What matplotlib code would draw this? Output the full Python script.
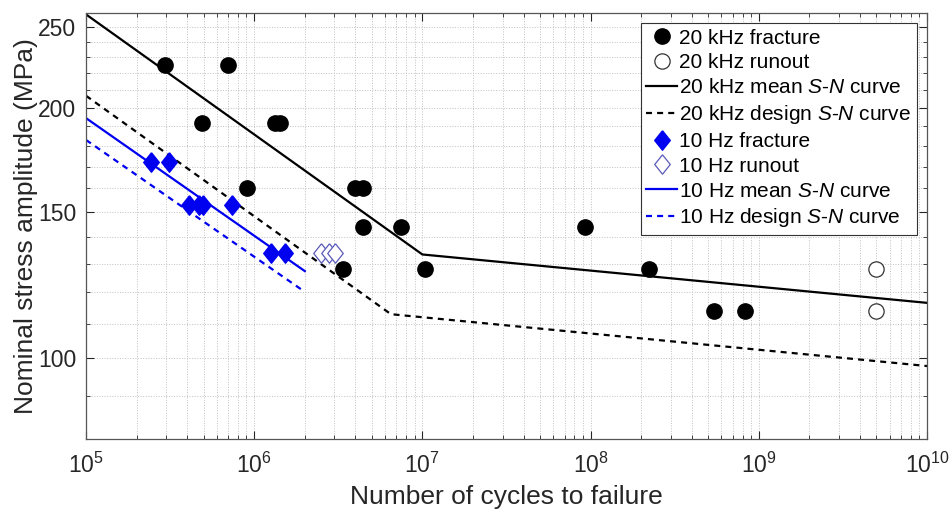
import matplotlib
matplotlib.use("Agg")
import matplotlib.pyplot as plt
from matplotlib.ticker import FixedLocator, NullFormatter, LogLocator

# data
khz_frac_N = [2.95e5, 6.96e5, 4.92e5, 1.33e6, 1.42e6, 9.1e5, 3.95e6, 4.44e6,
              4.44e6, 7.5e6, 3.37e6, 1.04e7, 9.3e7, 2.22e8, 5.45e8, 8.3e8]
khz_frac_S = [225, 225, 192, 192, 192, 160, 160, 160,
              144, 144, 128, 128, 144, 128, 114, 114]
khz_run_N = [5e9, 5e9]
khz_run_S = [128, 114]

hz_frac_N = [2.44e5, 3.12e5, 4.12e5, 4.69e5, 4.99e5, 7.43e5, 1.26e6, 1.53e6]
hz_frac_S = [172, 172, 153, 153, 153, 153, 134, 134]
hz_run_N = [2.5e6, 2.77e6, 3.03e6]
hz_run_S = [134, 134, 134]

khz_mean_N = [1e5, 1e7, 1e10]
khz_mean_S = [259, 133.3, 116.6]
khz_design_N = [1e5, 6.5e6, 1e10]
khz_design_S = [206.8, 113, 97.9]
hz_mean_N = [1e5, 2e6]
hz_mean_S = [194.4, 127.3]
hz_design_N = [1e5, 2e6]
hz_design_S = [183, 120.2]

plt.rcParams['font.family'] = ['Liberation Sans', 'DejaVu Sans']
plt.rcParams['mathtext.fontset'] = 'custom'
plt.rcParams['mathtext.rm'] = 'Liberation Sans'
plt.rcParams['mathtext.it'] = 'Liberation Sans:italic'
plt.rcParams['mathtext.default'] = 'regular'

fig = plt.figure(figsize=(9.5, 5.13), dpi=100)
ax = fig.add_axes([0.0905, 0.1442, 0.8853, 0.8305])

blue = '#0000f0'
diamond = [(0, 1), (0.8, 0), (0, -1), (-0.8, 0), (0, 1)]
dash = (2.7, 2.3)

ax.plot(khz_frac_N, khz_frac_S, 'o', color='black', ms=11, ls='none',
        label='20 kHz fracture', zorder=4)
ax.plot(khz_run_N, khz_run_S, 'o', mfc='white', mec='#333333', mew=0.9, ms=11,
        ls='none', label='20 kHz runout', zorder=4)
ax.plot(khz_mean_N, khz_mean_S, color='black', lw=1.6,
        label=r'20 kHz mean $\mathit{S}$-$\mathit{N}$ curve')
ax.plot(khz_design_N, khz_design_S, color='black', lw=1.6, ls=(0, dash),
        label=r'20 kHz design $\mathit{S}$-$\mathit{N}$ curve')
ax.plot(hz_frac_N, hz_frac_S, marker=diamond, color=blue, ms=14, ls='none',
        label='10 Hz fracture', zorder=4)
ax.plot(hz_run_N, hz_run_S, marker=diamond, mfc='white', mec='#5a5ab8', mew=0.9,
        ms=14, ls='none', label='10 Hz runout', zorder=4)
ax.plot(hz_mean_N, hz_mean_S, color=blue, lw=1.6,
        label=r'10 Hz mean $\mathit{S}$-$\mathit{N}$ curve')
ax.plot(hz_design_N, hz_design_S, color=blue, lw=1.6, ls=(0, dash),
        label=r'10 Hz design $\mathit{S}$-$\mathit{N}$ curve')

ax.set_xscale('log')
ax.set_yscale('log')
ax.set_xlim(1e5, 1e10)
ax.set_ylim(80, 260)

ax.xaxis.set_major_locator(LogLocator(base=10, numticks=10))
ax.xaxis.set_minor_locator(LogLocator(base=10, subs=range(2, 10), numticks=20))
ax.xaxis.set_minor_formatter(NullFormatter())
ax.yaxis.set_major_locator(FixedLocator([100, 150, 200, 250]))
ax.yaxis.set_minor_locator(FixedLocator([90, 110, 120, 130, 140, 160, 170, 180,
                                         190, 210, 220, 230, 240]))
ax.yaxis.set_major_formatter(matplotlib.ticker.FormatStrFormatter('%d'))
ax.yaxis.set_minor_formatter(NullFormatter())

ax.grid(True, which='both', ls=':', color='#c0c0c0', lw=0.7)
ax.set_axisbelow(True)
ax.tick_params(which='both', direction='in', top=True, right=True,
               colors='#262626', labelsize=16.5)
ax.tick_params(which='major', length=6, width=0.8)
ax.tick_params(axis='x', which='major', pad=10)
ax.tick_params(axis='y', which='major', pad=7)
ax.tick_params(which='minor', length=3, width=0.6)
for s in ax.spines.values():
    s.set_color('#555555')
    s.set_linewidth(0.9)

ax.set_xlabel('Number of cycles to failure', fontsize=19, color='#262626',
              labelpad=5)
ax.set_ylabel('Nominal stress amplitude (MPa)', fontsize=19, color='#262626',
              labelpad=0)

leg = ax.legend(loc='upper right', fontsize=15, handlelength=1.5,
                handletextpad=0.1, labelspacing=0.28, borderpad=0.25,
                borderaxespad=0.5, fancybox=False, framealpha=1,
                edgecolor='#333333')
leg.get_frame().set_linewidth(0.8)

fig.savefig('out.png', dpi=100)
